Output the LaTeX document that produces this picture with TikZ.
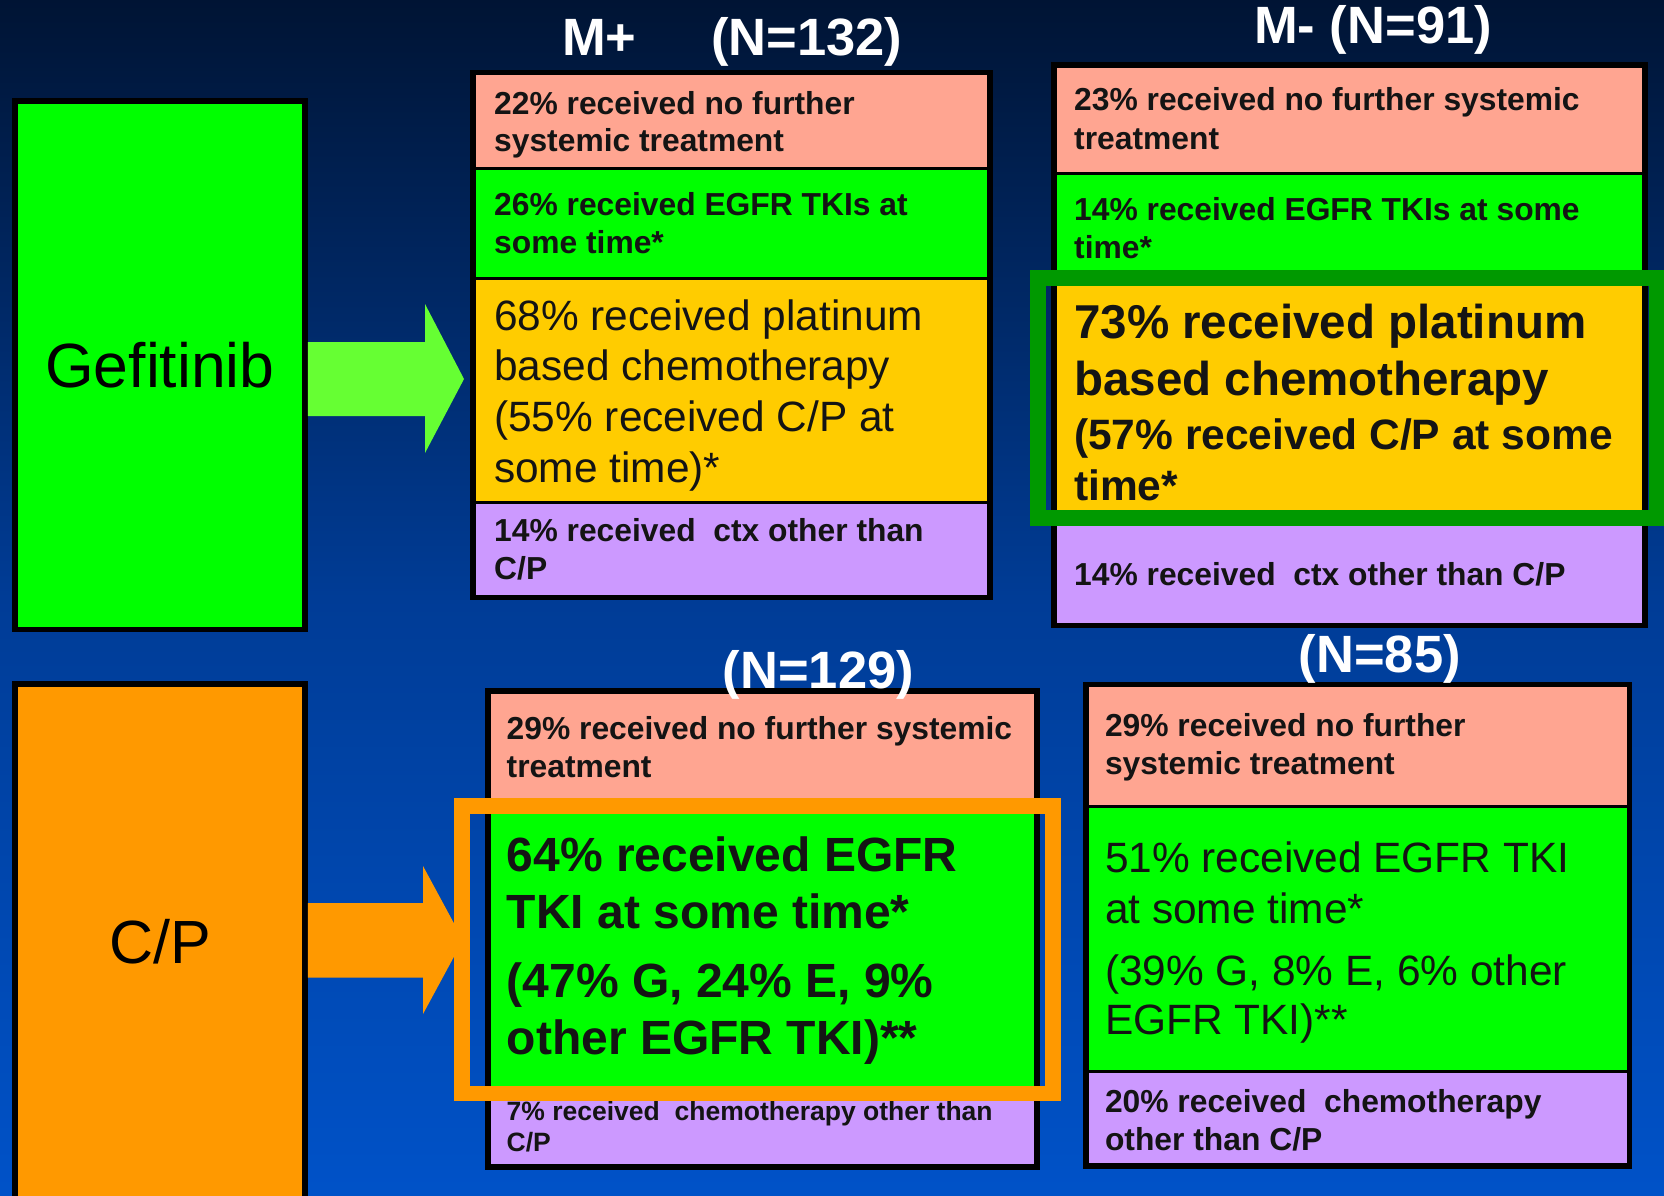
\documentclass[tikz,border=0pt]{standalone}
\usepackage{fontspec}
\setmainfont{Liberation Sans}

\definecolor{bgtop}{RGB}{0,20,52}
\definecolor{bgmid}{RGB}{0,60,150}
\definecolor{bgbot}{RGB}{0,82,200}
\definecolor{peach}{RGB}{255,165,145}
\definecolor{gefgreen}{RGB}{0,255,0}
\definecolor{platyellow}{RGB}{255,204,0}
\definecolor{lilac}{RGB}{204,153,255}
\definecolor{cporange}{RGB}{255,153,0}
\definecolor{arrowgreen}{RGB}{102,255,51}
\definecolor{hlgreen}{RGB}{0,153,0}
\definecolor{ink}{RGB}{20,20,20}

\newcommand{\fsz}[2]{\fontsize{#1}{#2}\selectfont}
% first baseline of the block sits on the node's base
\newcommand{\rows}[1]{\parbox[t]{620pt}{\raggedright #1}}

\begin{document}
\begin{tikzpicture}[x=1pt, y=-1pt,
    frame/.style={draw=black, line width=5.5pt},
    cell/.style={draw=black, line width=3pt},
    lbl/.style={anchor=base west, inner sep=0pt, text=ink},
    head/.style={anchor=base west, inner sep=0pt, text=white, font=\fsz{52.5}{60}\bfseries}]
    \useasboundingbox (0,0) rectangle (1664,1195);
    \clip (0,0) rectangle (1664,1195);
    \shade[top color=bgtop, bottom color=bgbot, middle color=bgmid] (0,0) rectangle (1664,1195);

    % arms
    \node[frame, fill=gefgreen, minimum width=290pt, minimum height=528.7pt,
        font=\fsz{62.5}{70}] (gef) at (160,365.15) {Gefitinib};
    \node[frame, fill=cporange, minimum width=290pt, minimum height=516pt,
        font=\fsz{61}{70}] (cp) at (160,942) {C/P};

    \fill[arrowgreen] (gef.east |- 0,342) -- (425,342) -- (425,304) -- (464,379)
        -- (425,453) -- (425,416) -- (gef.east |- 0,416) -- cycle;
    \fill[cporange] (cp.east |- 0,903) -- (423,903) -- (423,866) -- (463,940)
        -- (423,1014) -- (423,977.5) -- (cp.east |- 0,977.5) -- cycle;

    % gefitinib, M+
    \begin{scope}[shift={(473,72.5)}]
        \draw[cell, fill=peach] (0,0) rectangle (517,96);
        \draw[cell, fill=gefgreen] (0,96) rectangle (517,205.5);
        \draw[cell, fill=platyellow] (0,205.5) rectangle (517,429.5);
        \draw[cell, fill=lilac] (0,429.5) rectangle (517,525);
        \draw[frame] (0,0) rectangle (517,525);
        \node[lbl, font=\fsz{31.8}{36.7}\bfseries] (gp1) at (21,42.2)
            {\rows{22\% received no further\\systemic treatment}};
        \node[lbl, font=\fsz{31.8}{37.5}\bfseries] (gp2) at (21,143)
            {\rows{26\% received EGFR TKIs at\\some time*}};
        \node[lbl, font=\fsz{42.4}{50.8}] (gp3) at (21,257.5)
            {\rows{68\% received platinum\\based chemotherapy\\(55\% received C/P at\\some time)*}};
        \node[lbl, font=\fsz{31.8}{37.3}\bfseries] (gp4) at (21,469.2)
            {\rows{14\% received \ ctx other than\\C/P}};
    \end{scope}

    % gefitinib, M-
    \begin{scope}[shift={(1054,65)}]
        \draw[cell, fill=peach] (0,0) rectangle (591,108.5);
        \draw[cell, fill=gefgreen] (0,108.5) rectangle (591,213);
        \draw[cell, fill=platyellow] (0,213) rectangle (591,453);
        \draw[cell, fill=lilac] (0,453) rectangle (591,560.6);
        \draw[frame] (0,0) rectangle (591,560.6);
        \node[lbl, font=\fsz{31.8}{38.8}\bfseries] (gm1) at (20,45.2)
            {\rows{23\% received no further systemic\\treatment}};
        \node[lbl, font=\fsz{31.8}{37.6}\bfseries] (gm2) at (20,155.4)
            {\rows{14\% received EGFR TKIs at some\\time*}};
        \node[lbl, font=\fsz{47.5}{57}\bfseries] (gm3) at (20,273.8)
            {\rows{73\% received platinum\\based chemotherapy}};
        \node[lbl, font=\fsz{42.5}{51}\bfseries] (gm3b) at (20,384)
            {\rows{(57\% received C/P at some\\time*}};
        \node[lbl, font=\fsz{31.8}{38}\bfseries] (gm4) at (20,520.7)
            {14\% received \ ctx other than C/P};
        \draw[hlgreen, line width=16pt] (-16,212.8) rectangle (603,453);
    \end{scope}

    % C/P, M+
    \begin{scope}[shift={(488,690.8)}]
        \draw[cell, fill=peach] (0,0) rectangle (549,115.2);
        \draw[cell, fill=gefgreen] (0,115.2) rectangle (549,402.7);
        \draw[cell, fill=lilac] (0,402.7) rectangle (549,476.2);
        \draw[frame] (0,0) rectangle (549,476.2);
        \node[lbl, font=\fsz{31.8}{38.7}\bfseries] (cp1) at (18.5,48.2)
            {\rows{29\% received no further systemic\\treatment}};
        \node[lbl, font=\fsz{48}{57}\bfseries] (cp2) at (18.5,180.2)
            {\rows{64\% received EGFR\\TKI at some time*}};
        \node[lbl, font=\fsz{48}{56.8}\bfseries] (cp2b) at (18.5,306.9)
            {\rows{(47\% G, 24\% E, 9\%\\other EGFR TKI)**}};
        \node[lbl, font=\fsz{26.5}{31.2}\bfseries] (cp3) at (18.5,429.7)
            {\rows{7\% received \ chemotherapy other than\\C/P}};
        \draw[cporange, line width=15.5pt] (-26,115.2) rectangle (565,402.7);
    \end{scope}

    % C/P, M-
    \begin{scope}[shift={(1086,684.6)}]
        \draw[cell, fill=peach] (0,0) rectangle (543.6,121.4);
        \draw[cell, fill=gefgreen] (0,121.4) rectangle (543.6,387.1);
        \draw[cell, fill=lilac] (0,387.1) rectangle (543.6,481.4);
        \draw[frame] (0,0) rectangle (543.6,481.4);
        \node[lbl, font=\fsz{31.8}{38}\bfseries] (cm1) at (18.8,52)
            {\rows{29\% received no further\\systemic treatment}};
        \node[lbl, font=\fsz{42.4}{50.5}] (cm2) at (18.8,187.9)
            {\rows{51\% received EGFR TKI\\at some time*}};
        \node[lbl, font=\fsz{42.4}{49.5}] (cm2b) at (18.8,300.4)
            {\rows{(39\% G, 8\% E, 6\% other\\EGFR TKI)**}};
        \node[lbl, font=\fsz{31.8}{38}\bfseries] (cm3) at (18.8,427.4)
            {\rows{20\% received \ chemotherapy\\other than C/P}};
    \end{scope}

    % group headings
    \node[head] (mplus) at (562,55) {M+};
    \node[head] (nplus) at (711,55) {(N=132)};
    \node[head] (mminus) at (1254,43) {M- (N=91)};
    \node[head] (ncpplus) at (722.6,688) {(N=129)};
    \node[head] (ncpminus) at (1298.6,672) {(N=85)};
\end{tikzpicture}
\end{document}
